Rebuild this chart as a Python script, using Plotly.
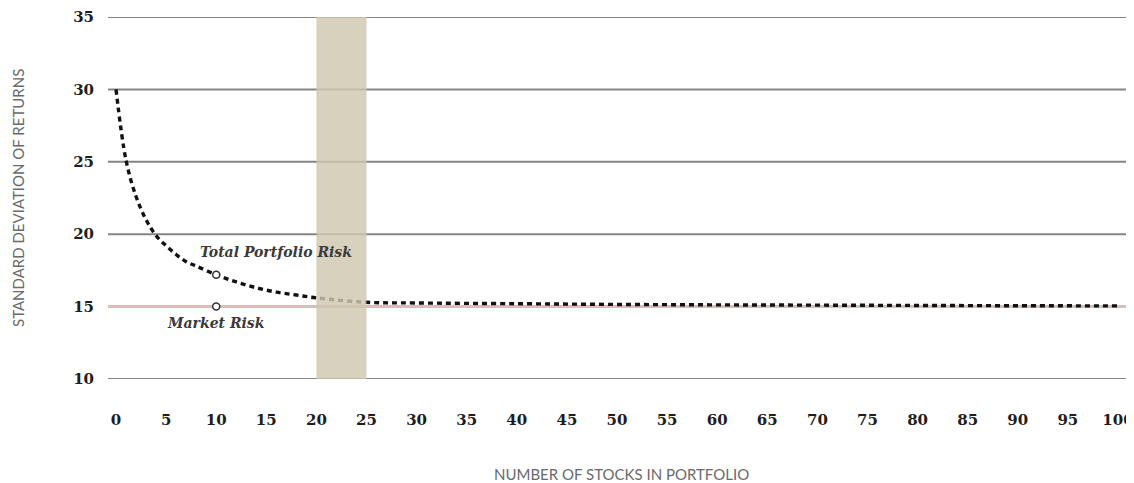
import plotly.graph_objects as go

# Data
n_stocks = [0, 1, 2, 3, 4, 5, 6, 7, 8, 10, 12, 14, 16, 18, 20, 25, 30, 40, 50, 60, 70, 80, 90, 100]
total_risk = [30.0, 25.1, 22.6, 21.0, 19.9, 19.2, 18.6, 18.1, 17.8, 17.2, 16.7, 16.3, 16.0, 15.8, 15.6, 15.3,
              15.25, 15.2, 15.15, 15.12, 15.1, 15.08, 15.06, 15.05]
market_risk = 15
marker_x = [10, 10]
marker_y = [17.2, 15]
band_range = [20, 25]
x_ticks = list(range(0, 101, 5))
y_ticks = [10, 15, 20, 25, 30, 35]

fig = go.Figure()

# gridlines as shapes
for yv in y_ticks:
    fig.add_shape(type="line", xref="paper", yref="y", x0=0, x1=1, y0=yv, y1=yv,
                  line=dict(color="#858585", width=2), layer="below")

# market risk line
fig.add_shape(type="line", xref="paper", yref="y", x0=0, x1=1, y0=market_risk, y1=market_risk,
              line=dict(color="#ebbcb1", width=1.2), layer="below")

fig.add_trace(go.Scatter(x=n_stocks, y=total_risk, mode="lines",
                         line=dict(color="#111111", width=3.4, dash="5px,4px", shape="spline"),
                         hoverinfo="skip", showlegend=False))

fig.add_trace(go.Scatter(x=marker_x, y=marker_y, mode="markers",
                         marker=dict(symbol="circle", size=7, color="white",
                                     line=dict(color="#333333", width=1.5)),
                         showlegend=False))

# highlighted band
fig.add_shape(type="rect", xref="x", yref="y", x0=band_range[0], x1=band_range[1], y0=10, y1=35,
              fillcolor="#cfc7ae", opacity=0.82, line=dict(width=0), layer="above")

ann_font = dict(family="DejaVu Serif", size=14, color="#3a3a3a")
fig.add_annotation(x=8.2, y=18.8, text="<b><i>Total Portfolio Risk</i></b>", showarrow=False,
                   xanchor="left", yanchor="middle", font=ann_font)
fig.add_annotation(x=10, y=13.9, text="<b><i>Market Risk</i></b>", showarrow=False,
                   xanchor="center", yanchor="middle", font=ann_font)

title_font = dict(family="Lato", size=15, color="#6a6a6a")
fig.add_annotation(x=0.5, y=0, xref="paper", yref="paper", yshift=-95, text="NUMBER OF STOCKS IN PORTFOLIO",
                   showarrow=False, xanchor="center", yanchor="middle", font=title_font)
fig.add_annotation(x=0, y=0.5, xref="paper", yref="paper", xshift=-90, text="STANDARD DEVIATION OF RETURNS",
                   showarrow=False, xanchor="center", yanchor="middle", textangle=-90, font=title_font)

tick_font = dict(family="DejaVu Serif", size=15, color="#1e1e1e")
fig.update_xaxes(range=[-0.8, 101.6], tickvals=x_ticks, ticktext=[f"<b>{v}</b>" for v in x_ticks],
                 showgrid=False, zeroline=False, showline=False, ticks="", ticklabelstandoff=30,
                 tickfont=tick_font)
fig.update_yaxes(range=[10, 35], tickvals=y_ticks, ticktext=[f"<b>{v}</b>" for v in y_ticks],
                 showgrid=False, zeroline=False, showline=False, ticks="", ticklabelstandoff=13,
                 tickfont=tick_font)

# the page body has an 8px margin, so the figure is sized to fit the window
fig.update_layout(width=1126, height=475, margin=dict(l=100, r=0, t=9, b=104),
                  plot_bgcolor="white", paper_bgcolor="white")

fig.write_html("out.html")
